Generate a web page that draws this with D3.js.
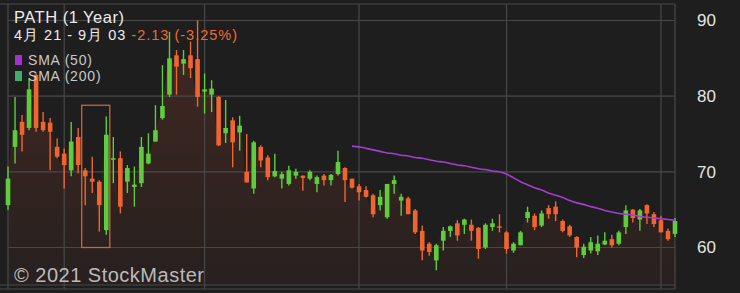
<!DOCTYPE html>
<html>
<head>
<meta charset="utf-8">
<script src="https://cdn.jsdelivr.net/npm/d3@7"></script>
<style>
  html, body { margin: 0; padding: 0; background: #1e1e1e; }
  svg { display: block; }
</style>
</head>
<body>
<div id="chart"></div>
<script>
// svg area
var svgWidth = 740;
var svgHeight = 293;

// daily candles, 4/21 .. 9/03 (trading day index)
var opens  = [65.6,73.3,76.6,75.8,82.8,76.6,76.5,73.3,72.4,70.2,74.6,70.2,69.1,68.7,62.3,71.6,71.8,68.7,68.0,68.5,
              71.1,74.0,77.1,80.2,85.4,84.3,85.4,84.9,80.6,80.2,79.9,75.1,76.8,75.2,70.0,67.8,73.3,71.9,69.4,69.1,
              68.4,69.5,69.5,69.1,68.4,69.5,68.9,69.7,70.5,69.1,68.1,67.6,66.9,65.6,64.0,68.4,66.2,66.5,64.9,62.2,
              60.5,58.3,60.9,62.2,63.2,63.0,63.0,62.6,60.0,62.7,62.8,62.0,59.6,60.3,63.9,64.2,62.9,65.2,65.4,63.5,
              62.8,61.4,59.0,59.6,59.5,60.4,61.1,60.5,62.7,65.0,63.7,65.6,64.4,63.6,62.2,61.8];
var highs  = [70.7,79.9,77.5,82.4,83.0,77.9,77.1,74.4,73.1,76.6,75.8,70.5,72.0,68.9,77.3,74.6,72.7,70.9,70.7,74.6,
              75.1,78.8,84.1,88.5,86.1,86.1,87.2,90.0,83.0,82.1,80.0,79.5,77.2,77.4,75.0,74.1,73.5,72.2,72.4,70.0,
              70.8,70.4,69.5,70.2,69.5,69.7,69.7,72.8,70.6,69.1,68.4,68.1,67.1,67.6,68.4,69.5,67.1,66.7,65.1,62.9,
              60.7,60.5,62.7,62.9,63.6,63.8,63.7,62.7,63.2,63.8,64.4,62.2,60.7,62.2,65.4,64.5,64.9,65.6,66.1,63.7,
              63.0,61.5,60.5,61.4,61.6,62.0,61.7,62.2,65.6,65.1,65.1,65.7,64.7,64.2,62.5,63.9];
var lows   = [65.0,71.1,72.7,75.5,75.3,75.3,70.2,71.8,67.8,69.4,69.8,65.6,67.2,62.1,61.7,68.5,64.5,67.2,65.4,68.0,
              71.0,74.0,76.9,79.9,80.2,82.8,82.4,78.6,77.7,77.9,73.4,73.8,70.6,72.8,68.6,67.1,70.6,68.9,69.3,67.8,
              68.2,69.1,67.5,68.9,67.3,68.2,68.2,69.5,66.0,67.8,66.2,66.6,64.0,64.9,63.8,67.1,64.2,64.4,61.8,58.3,
              58.9,57.0,59.6,61.4,60.9,61.8,60.9,58.5,59.8,62.2,62.0,59.2,59.3,60.3,63.3,62.3,62.7,63.8,63.5,62.0,
              61.4,58.7,58.6,59.2,59.0,60.3,60.0,60.3,61.8,63.3,62.2,63.1,62.7,62.0,60.9,61.4];
var closes = [69.1,75.5,74.9,80.9,75.8,75.5,75.3,72.0,70.9,74.0,70.9,69.4,68.7,65.6,74.9,71.8,65.4,70.5,68.3,73.3,
              72.4,75.5,78.7,85.0,83.9,84.9,83.7,79.9,80.9,81.0,73.5,75.8,73.9,76.1,68.6,73.9,71.5,69.3,70.1,69.7,
              70.2,70.0,69.2,70.0,69.3,68.9,69.6,71.3,68.9,67.9,67.3,66.7,64.4,66.7,68.4,68.9,66.7,64.4,62.0,59.6,
              59.4,60.3,62.2,62.8,61.6,63.7,62.2,59.8,63.0,63.2,62.6,59.8,60.5,62.0,64.7,62.7,64.5,64.4,64.4,62.2,
              61.6,60.0,60.1,60.7,60.5,60.9,60.3,62.0,64.9,63.9,64.9,64.5,63.1,62.0,61.1,63.5];

// SMA(50) as drawn, starting at day 49
var smaStart = 49;
var sma50 = [73.4,73.3,73.1,72.9,72.7,72.5,72.4,72.2,72.1,71.9,71.8,71.6,71.4,71.3,71.1,70.9,70.8,70.6,70.4,70.3,
             70.1,70.0,69.7,69.2,68.7,68.3,67.9,67.6,67.2,66.9,66.6,66.2,65.9,65.7,65.4,65.2,64.9,64.7,64.5,64.4,
             64.3,64.1,64.0,63.9,63.8,63.7,63.6];

// first trading day of each month (gridlines)
var monthStarts = [8, 28, 50, 71, 93];
var yTicks = [60, 70, 80, 90];

// highlighted box (days / prices)
var boxDays = [10.5, 14.5];
var boxPrices = [60, 78.8];

var chartMargin = { top: 4, right: 65, bottom: 8, left: 8 };
var plotRight = svgWidth - chartMargin.right;   // 675
var plotBottom = svgHeight - chartMargin.bottom; // 285

var upColor = "#5fcc3e";
var downColor = "#f0652f";
var gridColor = "#484848";
var font = "'Liberation Sans', Arial, sans-serif";

var svg = d3.select("#chart")
  .append("svg")
  .attr("width", svgWidth)
  .attr("height", svgHeight);

svg.append("rect")
  .attr("width", svgWidth)
  .attr("height", svgHeight)
  .attr("fill", "#1e1e1e");

var xScale = d3.scaleLinear()
  .domain([0, closes.length - 1])
  .range([chartMargin.left, plotRight]);

var yScale = d3.scaleLinear()
  .domain([60, 90])
  .range([247.5, 20.5]);

// area under closes
var defs = svg.append("defs");
var grad = defs.append("linearGradient")
  .attr("id", "areaGrad")
  .attr("x1", 0).attr("y1", 0).attr("x2", 0).attr("y2", 1);
grad.append("stop").attr("offset", "0%").attr("stop-color", "#8c3c2a").attr("stop-opacity", 0.3);
grad.append("stop").attr("offset", "100%").attr("stop-color", "#8c3c2a").attr("stop-opacity", 0.08);

var area = d3.area()
  .x((d, i) => xScale(i))
  .y0(plotBottom)
  .y1(d => yScale(d))
  .curve(d3.curveMonotoneX);

svg.append("path")
  .datum(closes)
  .attr("d", area)
  .attr("fill", "url(#areaGrad)");

// gridlines
var grid = svg.append("g").attr("stroke", gridColor).attr("stroke-width", 1.2);

grid.selectAll(".hy")
  .data(yTicks)
  .enter()
  .append("line")
  .attr("x1", chartMargin.left)
  .attr("x2", plotRight)
  .attr("y1", d => yScale(d))
  .attr("y2", d => yScale(d));

[chartMargin.top, plotBottom, plotBottom + 4].forEach(function(y) {
  grid.append("line")
    .attr("x1", 0).attr("x2", plotRight)
    .attr("y1", y).attr("y2", y);
});

grid.selectAll(".vx")
  .data(monthStarts)
  .enter()
  .append("line")
  .attr("x1", d => xScale(d))
  .attr("x2", d => xScale(d))
  .attr("y1", chartMargin.top)
  .attr("y2", plotBottom + 4);

[chartMargin.left, plotRight].forEach(function(x) {
  grid.append("line")
    .attr("x1", x).attr("x2", x)
    .attr("y1", chartMargin.top).attr("y2", plotBottom + 4);
});

// right axis
var rightAxis = d3.axisRight(yScale)
  .tickValues(yTicks)
  .tickSize(0)
  .tickPadding(0);

var yAxis = svg.append("g")
  .attr("transform", `translate(697, 0)`)
  .call(rightAxis);
yAxis.select(".domain").remove();
yAxis.selectAll("text")
  .attr("fill", "#e4e4e4")
  .attr("font-size", "17px")
  .attr("font-family", font);

// candles
var candles = svg.append("g").selectAll("g")
  .data(closes.map((c, i) => ({ i: i, o: opens[i], h: highs[i], l: lows[i], c: c })))
  .enter()
  .append("g");

candles.append("line")
  .attr("x1", d => xScale(d.i))
  .attr("x2", d => xScale(d.i))
  .attr("y1", d => yScale(d.h))
  .attr("y2", d => yScale(d.l))
  .attr("stroke", d => d.c >= d.o ? upColor : downColor)
  .attr("stroke-width", 1.4);

candles.append("rect")
  .attr("x", d => xScale(d.i) - 2.3)
  .attr("width", 4.6)
  .attr("y", d => yScale(Math.max(d.o, d.c)))
  .attr("height", d => Math.max(1.2, Math.abs(yScale(d.o) - yScale(d.c))))
  .attr("fill", d => d.c >= d.o ? upColor : downColor);

// SMA 50
var smaLine = d3.line()
  .x((d, i) => xScale(smaStart + i))
  .y(d => yScale(d))
  .curve(d3.curveMonotoneX);

svg.append("path")
  .datum(sma50)
  .attr("d", smaLine)
  .attr("fill", "none")
  .attr("stroke", "#a83bd0")
  .attr("stroke-width", 1.6);

// highlight box
svg.append("rect")
  .attr("x", xScale(boxDays[0]))
  .attr("width", xScale(boxDays[1]) - xScale(boxDays[0]))
  .attr("y", yScale(boxPrices[1]))
  .attr("height", yScale(boxPrices[0]) - yScale(boxPrices[1]))
  .attr("fill", "none")
  .attr("stroke", "#d0623c")
  .attr("stroke-width", 1.3);

// header text
svg.append("text")
  .attr("x", 14).attr("y", 22.5)
  .attr("font-family", font).attr("font-size", "16.5px")
  .attr("letter-spacing", "0.5px")
  .attr("fill", "#ececec")
  .text("PATH (1 Year)");

var sub = svg.append("text")
  .attr("x", 14).attr("y", 39.5)
  .attr("font-family", font).attr("font-size", "14.5px")
  .attr("letter-spacing", "1px")
  .attr("fill", "#ececec");
sub.append("tspan").text("4月 21 - 9月 03 ");
sub.append("tspan").attr("fill", "#f06a35").text("-2.13 (-3.25%)");

var legend = [
  { label: "SMA (50)", color: "#a52fcf", y: 55 },
  { label: "SMA (200)", color: "#3fae68", y: 71 }
];
var lg = svg.append("g").selectAll("g")
  .data(legend)
  .enter()
  .append("g");
lg.append("rect")
  .attr("x", 15).attr("y", d => d.y)
  .attr("width", 7).attr("height", 10)
  .attr("fill", d => d.color);
lg.append("text")
  .attr("x", 28).attr("y", d => d.y + 10)
  .attr("font-family", font).attr("font-size", "14px")
  .attr("letter-spacing", "0.8px")
  .attr("fill", "#c8c8c8")
  .text(d => d.label);

svg.append("text")
  .attr("x", 14).attr("y", 281.5)
  .attr("font-family", font).attr("font-size", "20px")
  .attr("letter-spacing", "0.5px")
  .attr("fill", "#cfcfcf")
  .attr("fill-opacity", 0.9)
  .text("© 2021 StockMaster");
</script>
</body>
</html>
